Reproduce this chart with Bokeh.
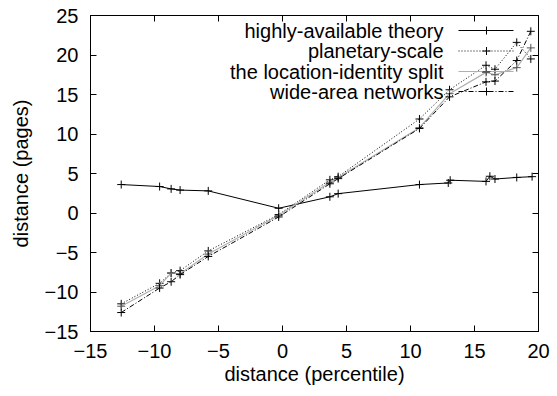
from bokeh.plotting import figure
from bokeh.models import Range1d, FixedTicker, LinearAxis, Label, Arrow
from bokeh.embed import file_html
from bokeh.resources import INLINE

# ---- data ----
x_theory = [-12.6, -9.6, -8.7, -8.0, -5.8, -0.3, 3.7, 4.35, 10.7, 12.95, 13.1, 15.9, 16.2, 16.6, 18.3, 19.5]
y_theory = [3.6, 3.35, 3.05, 2.9, 2.8, 0.6, 2.05, 2.45, 3.6, 3.8, 4.15, 4.0, 4.65, 4.3, 4.5, 4.6]

x_common = [-12.6, -9.6, -8.7, -8.0, -5.8, -0.3, 3.7, 4.35, 10.7, 13.05, 15.9, 16.6, 18.3, 19.4]
y_planetary = [-11.5, -8.9, -7.6, -7.3, -4.8, -0.2, 4.2, 4.6, 11.9, 15.6, 18.7, 18.2, 21.6, 19.5]
y_location = [-11.8, -9.2, -7.6, -7.7, -5.2, -0.3, 3.9, 4.5, 10.8, 15.1, 17.8, 17.5, 18.4, 20.9]
y_widearea = [-12.6, -9.5, -8.7, -7.8, -5.5, -0.5, 3.7, 4.35, 10.7, 14.7, 16.6, 16.7, 19.3, 23.0]

series_names = ["highly-available theory", "planetary-scale",
                "the location-identity split", "wide-area networks"]
x_ticks = [-15, -10, -5, 0, 5, 10, 15, 20]
y_ticks = [-15, -10, -5, 0, 5, 10, 15, 20, 25]

FONT = "Liberation Sans"
FS = "20px"

p = figure(width=557, height=396, output_backend="svg", toolbar_location=None,
           x_range=Range1d(-15, 20), y_range=Range1d(-15, 25),
           min_border_left=90, min_border_right=19, min_border_top=15, min_border_bottom=65,
           x_axis_label="distance (percentile)", y_axis_label="distance (pages)")
p.grid.visible = False
p.outline_line_color = "black"
p.outline_line_width = 1
p.background_fill_color = "white"
p.border_fill_color = "white"

for ax in (p.xaxis[0], p.yaxis[0]):
    ax.major_tick_in = 6
    ax.major_tick_out = 0
    ax.minor_tick_line_color = None
    ax.axis_line_color = "black"
    ax.major_tick_line_color = "black"
    ax.major_label_text_font = FONT
    ax.major_label_text_font_size = FS
    ax.major_label_text_color = "black"
    ax.axis_label_text_font = FONT
    ax.axis_label_text_font_size = FS
    ax.axis_label_text_font_style = "normal"
    ax.axis_label_text_color = "black"
p.xaxis[0].ticker = FixedTicker(ticks=x_ticks)
p.yaxis[0].ticker = FixedTicker(ticks=y_ticks)
p.xaxis[0].major_label_standoff = 12
p.yaxis[0].major_label_standoff = 12
p.xaxis[0].axis_label_standoff = 2
p.yaxis[0].axis_label_standoff = 10

# mirrored axes: ticks only (drawn as minor ticks, so no labels exist)
top = LinearAxis(ticker=FixedTicker(ticks=[], minor_ticks=x_ticks), minor_tick_in=6,
                 minor_tick_out=0, minor_tick_line_color="black", major_tick_line_color=None,
                 axis_line_color="black")
right = LinearAxis(ticker=FixedTicker(ticks=[], minor_ticks=y_ticks), minor_tick_in=6,
                   minor_tick_out=0, minor_tick_line_color="black", major_tick_line_color=None,
                   axis_line_color="black")
p.add_layout(top, "above")
p.add_layout(right, "right")

styles = [
    dict(color="black", dash="solid", width=1),
    dict(color="black", dash="1 2", width=1),
    dict(color="#b0b0b0", dash="solid", width=1.2),
    dict(color="black", dash="5 2 1 2", width=1),
]
data = [(x_theory, y_theory), (x_common, y_planetary), (x_common, y_location), (x_common, y_widearea)]
marker_cols = ["black", "black", "#555555", "black"]

for (xs, ys), st, mc in zip(data, styles, marker_cols):
    p.line(xs, ys, line_color=st["color"], line_dash=st["dash"], line_width=st["width"])
    p.scatter(xs, ys, marker="cross", size=8, line_color=mc, line_width=1)

# manual gnuplot-style legend (label left, sample right), screen units relative to frame
row_y = [301, 280.5, 260, 240]
text_right = 353
l0, l1, lm = 368, 423, 396
for name, st, yy, mcol in zip(series_names, styles, row_y, marker_cols):
    p.add_layout(Label(x=text_right, y=yy, x_units="screen", y_units="screen", text=name,
                       text_align="right", text_baseline="middle", text_font=FONT,
                       text_font_size=FS, text_color="black"))
    p.add_layout(Arrow(x_start=l0, y_start=yy, x_end=l1, y_end=yy, start_units="screen",
                       end_units="screen", end=None, line_color=st["color"],
                       line_dash=st["dash"], line_width=st["width"]))
    p.add_layout(Arrow(x_start=lm - 4, y_start=yy, x_end=lm + 4, y_end=yy, start_units="screen",
                       end_units="screen", end=None, line_color=mcol, line_width=1))
    p.add_layout(Arrow(x_start=lm, y_start=yy - 4, x_end=lm, y_end=yy + 4, start_units="screen",
                       end_units="screen", end=None, line_color=mcol, line_width=1))

open("out.html", "w").write(file_html(p, INLINE))
